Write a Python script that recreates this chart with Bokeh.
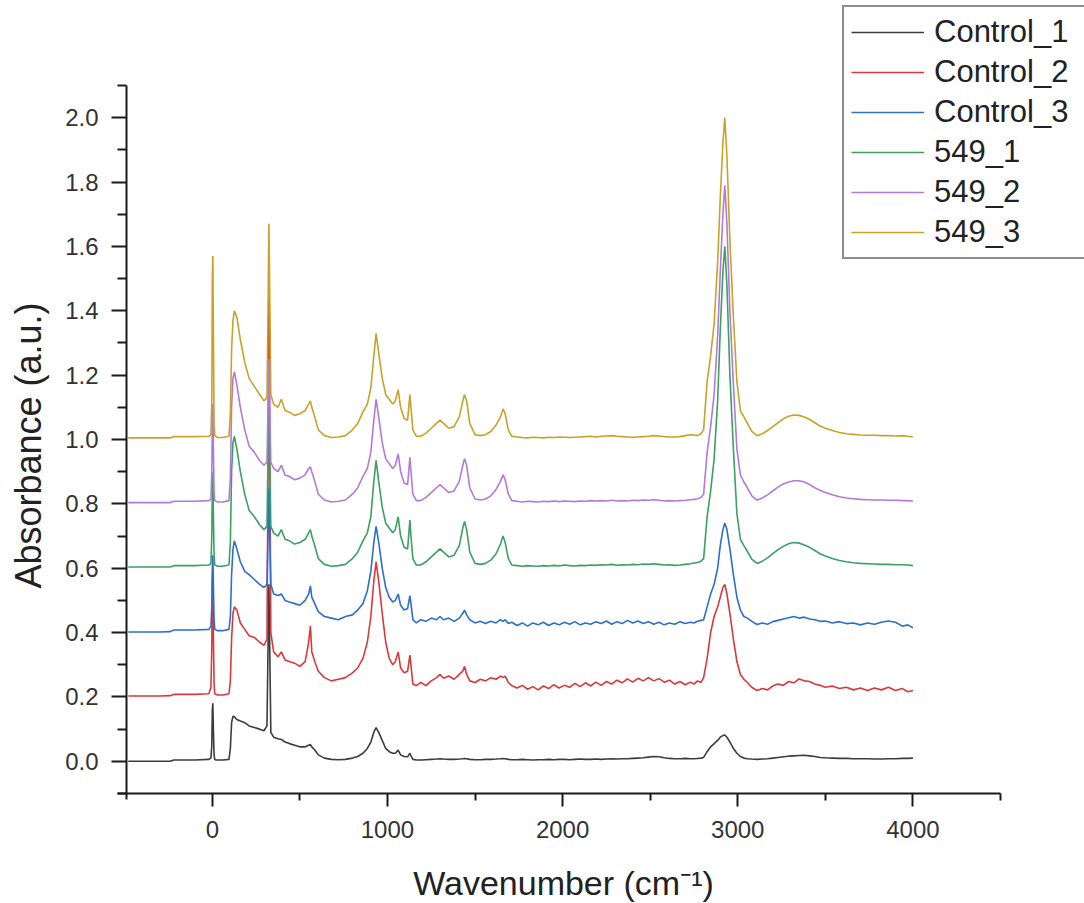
import math
from bokeh.plotting import figure
from bokeh.models import Range1d, FixedTicker, PrintfTickFormatter, Legend, LegendItem, Label
from bokeh.embed import file_html
from bokeh.resources import INLINE

# ---------------- data ----------------
series_names = ["Control_1", "Control_2", "Control_3", "549_1", "549_2", "549_3"]
offsets = [0.0, 0.2, 0.4, 0.6, 0.8, 1.0]
x_title = "Wavenumber (cm\u207b\u00b9)"
y_title = "Absorbance (a.u.)"
x_ticks = [0, 1000, 2000, 3000, 4000]
x_minor = [500, 1500, 2500, 3500, 4500]
y_ticks = [0.0, 0.2, 0.4, 0.6, 0.8, 1.0, 1.2, 1.4, 1.6, 1.8, 2.0]
y_minor = [-0.1, 0.1, 0.3, 0.5, 0.7, 0.9, 1.1, 1.3, 1.5, 1.7, 1.9, 2.1]

wavenumber = [
    -480, -300, -240, -220, -100, -20, -8, -3, 0, 3,
    6, 10, 14, 30, 60, 95, 103, 110, 118, 126,
    140, 160, 185, 210, 240, 270, 295, 312, 318, 323,
    328, 334, 350, 375, 394, 415, 440, 470, 500, 530,
    550, 560, 568, 585, 605, 640, 680, 720, 760, 800,
    830, 860, 885, 905, 922, 935, 950, 970, 990, 1010,
    1030, 1045, 1061, 1075, 1095, 1115, 1128, 1134, 1145, 1165,
    1190, 1220, 1250, 1280, 1300, 1320, 1350, 1380, 1410, 1430,
    1440, 1452, 1470, 1500, 1530, 1560, 1590, 1620, 1645, 1660,
    1672, 1690, 1710, 1740, 1770, 1800, 1830, 1860, 1890, 1920,
    1950, 1980, 2010, 2040, 2070, 2100, 2130, 2160, 2190, 2220,
    2250, 2280, 2310, 2340, 2370, 2400, 2430, 2460, 2490, 2520,
    2550, 2580, 2610, 2640, 2670, 2700, 2730, 2750, 2770, 2790,
    2805, 2825, 2845, 2865, 2885, 2900, 2915, 2926, 2938, 2955,
    2975, 2995, 3015, 3035, 3055, 3080, 3110, 3140, 3170, 3200,
    3230, 3260, 3290, 3320, 3350, 3380, 3410, 3440, 3470, 3500,
    3540, 3580, 3620, 3660, 3700, 3740, 3780, 3820, 3860, 3900,
    3940, 3970, 4000,
]

control_1 = [
    0.0, 0.0, 0.0, 0.004, 0.004, 0.006, 0.010, 0.05, 0.16, 0.18,
    0.10, 0.02, 0.005, 0.004, 0.004, 0.006, 0.04, 0.12, 0.14, 0.138,
    0.13, 0.125, 0.12, 0.11, 0.105, 0.10, 0.095, 0.11, 0.35, 0.55,
    0.35, 0.09, 0.075, 0.07, 0.068, 0.06, 0.055, 0.05, 0.045, 0.045,
    0.05, 0.052, 0.045, 0.035, 0.02, 0.01, 0.006, 0.005, 0.006, 0.01,
    0.015, 0.025, 0.04, 0.06, 0.09, 0.105, 0.09, 0.065, 0.04, 0.03,
    0.025, 0.025, 0.035, 0.02, 0.015, 0.014, 0.025, 0.018, 0.006, 0.004,
    0.004, 0.005, 0.006, 0.007, 0.008, 0.007, 0.006, 0.006, 0.007, 0.008,
    0.009, 0.008, 0.006, 0.005, 0.005, 0.006, 0.006, 0.007, 0.008, 0.009,
    0.008, 0.006, 0.005, 0.005, 0.006, 0.005, 0.004, 0.005, 0.005, 0.006,
    0.005, 0.006, 0.006, 0.005, 0.006, 0.007, 0.006, 0.006, 0.007, 0.006,
    0.007, 0.008, 0.007, 0.008, 0.008, 0.009, 0.010, 0.011, 0.013, 0.015,
    0.014, 0.011, 0.009, 0.008, 0.008, 0.009, 0.008, 0.008, 0.009, 0.010,
    0.012, 0.03, 0.045, 0.055, 0.065, 0.075, 0.08, 0.082, 0.075, 0.06,
    0.04, 0.025, 0.015, 0.01, 0.008, 0.007, 0.006, 0.007, 0.008, 0.01,
    0.012, 0.014, 0.016, 0.017, 0.018, 0.019, 0.017, 0.015, 0.012, 0.011,
    0.01, 0.009, 0.009, 0.008, 0.008, 0.008, 0.007, 0.007, 0.008, 0.008,
    0.009, 0.009, 0.01,
]

control_2 = [
    0.003, 0.003, 0.004, 0.008, 0.008, 0.010, 0.03, 0.15, 0.35, 0.40,
    0.20, 0.04, 0.010, 0.006, 0.006, 0.010, 0.05, 0.18, 0.26, 0.28,
    0.27, 0.23, 0.21, 0.19, 0.185, 0.17, 0.16, 0.18, 0.70, 1.28,
    0.80, 0.20, 0.14, 0.125, 0.14, 0.115, 0.11, 0.105, 0.095, 0.11,
    0.17, 0.22, 0.14, 0.11, 0.08, 0.06, 0.05, 0.055, 0.06, 0.075,
    0.09, 0.12, 0.17, 0.25, 0.36, 0.42, 0.36, 0.26, 0.17, 0.12,
    0.10, 0.11, 0.14, 0.09, 0.075, 0.08, 0.13, 0.10, 0.04, 0.035,
    0.045, 0.035, 0.05, 0.06, 0.07, 0.058, 0.065, 0.055, 0.07, 0.08,
    0.095, 0.07, 0.05, 0.045, 0.055, 0.05, 0.06, 0.055, 0.065, 0.06,
    0.065, 0.045, 0.035, 0.028, 0.036, 0.024, 0.032, 0.022, 0.034, 0.026,
    0.038, 0.028, 0.036, 0.03, 0.042, 0.032, 0.044, 0.034, 0.046, 0.036,
    0.048, 0.04, 0.052, 0.044, 0.056, 0.046, 0.058, 0.05, 0.06, 0.05,
    0.057, 0.046, 0.052, 0.04, 0.048, 0.038, 0.046, 0.04, 0.05, 0.045,
    0.06, 0.12, 0.20, 0.25, 0.28, 0.31, 0.34, 0.35, 0.32, 0.26,
    0.18, 0.11, 0.07, 0.055, 0.045, 0.03, 0.02, 0.026, 0.022, 0.034,
    0.04, 0.036, 0.048, 0.044, 0.056, 0.05, 0.048, 0.04, 0.036, 0.03,
    0.034, 0.026, 0.03, 0.022, 0.028, 0.02, 0.028, 0.022, 0.03, 0.02,
    0.026, 0.016, 0.02,
]

control_3 = [
    0.002, 0.002, 0.003, 0.008, 0.008, 0.010, 0.02, 0.08, 0.20, 0.24,
    0.15, 0.04, 0.010, 0.006, 0.006, 0.010, 0.05, 0.18, 0.26, 0.285,
    0.26, 0.22, 0.19, 0.18, 0.165, 0.15, 0.14, 0.15, 0.30, 0.45,
    0.30, 0.15, 0.12, 0.115, 0.12, 0.10, 0.095, 0.09, 0.085, 0.10,
    0.12, 0.145, 0.11, 0.09, 0.065, 0.05, 0.045, 0.04, 0.05, 0.055,
    0.07, 0.09, 0.13, 0.19, 0.28, 0.33, 0.28, 0.20, 0.14, 0.11,
    0.095, 0.10, 0.12, 0.085, 0.07, 0.075, 0.115, 0.09, 0.04, 0.03,
    0.04, 0.035, 0.045, 0.04, 0.05, 0.04, 0.045, 0.035, 0.045, 0.06,
    0.07, 0.055, 0.04, 0.03, 0.035, 0.028, 0.035, 0.03, 0.04, 0.035,
    0.04, 0.028, 0.032, 0.022, 0.03, 0.02, 0.03, 0.024, 0.032, 0.022,
    0.03, 0.024, 0.032, 0.026, 0.034, 0.024, 0.03, 0.026, 0.034, 0.028,
    0.036, 0.026, 0.034, 0.028, 0.038, 0.03, 0.036, 0.028, 0.034, 0.026,
    0.032, 0.024, 0.03, 0.026, 0.034, 0.028, 0.032, 0.03, 0.035, 0.038,
    0.04, 0.08, 0.12, 0.15, 0.20, 0.27, 0.32, 0.34, 0.32, 0.26,
    0.18, 0.11, 0.07, 0.05, 0.045, 0.035, 0.025, 0.03, 0.026, 0.034,
    0.038, 0.042, 0.046, 0.05, 0.045, 0.048, 0.042, 0.04, 0.035, 0.036,
    0.03, 0.034, 0.028, 0.03, 0.024, 0.03, 0.026, 0.032, 0.036, 0.032,
    0.02, 0.024, 0.015,
]

s549_1 = [
    0.004, 0.004, 0.004, 0.008, 0.008, 0.010, 0.015, 0.10, 0.25, 0.30,
    0.17, 0.04, 0.010, 0.006, 0.006, 0.010, 0.08, 0.30, 0.39, 0.41,
    0.37, 0.30, 0.23, 0.18, 0.16, 0.135, 0.12, 0.13, 0.35, 0.55,
    0.35, 0.13, 0.11, 0.10, 0.12, 0.09, 0.085, 0.075, 0.08, 0.09,
    0.11, 0.12, 0.10, 0.07, 0.03, 0.012, 0.006, 0.008, 0.012, 0.03,
    0.05, 0.085, 0.11, 0.16, 0.27, 0.335, 0.27, 0.19, 0.14, 0.125,
    0.11, 0.12, 0.16, 0.10, 0.065, 0.06, 0.15, 0.10, 0.03, 0.01,
    0.01, 0.02, 0.035, 0.05, 0.06, 0.05, 0.035, 0.04, 0.07, 0.125,
    0.145, 0.12, 0.05, 0.015, 0.012, 0.015, 0.025, 0.045, 0.075, 0.10,
    0.08, 0.03, 0.01, 0.008, 0.006, 0.008, 0.007, 0.006, 0.008, 0.007,
    0.009, 0.007, 0.010, 0.008, 0.007, 0.009, 0.008, 0.010, 0.009, 0.011,
    0.010, 0.012, 0.009, 0.011, 0.010, 0.012, 0.011, 0.013, 0.012, 0.014,
    0.012, 0.010, 0.011, 0.009, 0.010, 0.012, 0.014, 0.016, 0.018, 0.022,
    0.03, 0.16, 0.24, 0.34, 0.52, 0.74, 0.92, 1.0, 0.88, 0.60,
    0.37, 0.17, 0.09, 0.07, 0.052, 0.028, 0.015, 0.022, 0.032, 0.045,
    0.058, 0.068, 0.076, 0.08, 0.078, 0.072, 0.065, 0.055, 0.045, 0.038,
    0.03, 0.024, 0.02, 0.017, 0.015, 0.014, 0.013, 0.012, 0.012, 0.011,
    0.011, 0.010, 0.008,
]

s549_2 = [
    0.004, 0.004, 0.004, 0.008, 0.008, 0.010, 0.015, 0.10, 0.26, 0.31,
    0.18, 0.04, 0.010, 0.006, 0.006, 0.010, 0.08, 0.30, 0.39, 0.41,
    0.37, 0.30, 0.23, 0.18, 0.16, 0.135, 0.12, 0.13, 0.30, 0.45,
    0.30, 0.13, 0.11, 0.10, 0.12, 0.09, 0.085, 0.075, 0.08, 0.09,
    0.11, 0.115, 0.10, 0.07, 0.03, 0.012, 0.006, 0.008, 0.012, 0.03,
    0.05, 0.085, 0.11, 0.16, 0.26, 0.325, 0.27, 0.19, 0.14, 0.125,
    0.11, 0.12, 0.155, 0.10, 0.065, 0.06, 0.145, 0.10, 0.03, 0.01,
    0.01, 0.02, 0.035, 0.05, 0.06, 0.05, 0.035, 0.04, 0.07, 0.12,
    0.14, 0.12, 0.05, 0.015, 0.012, 0.015, 0.025, 0.045, 0.07, 0.09,
    0.075, 0.03, 0.01, 0.008, 0.006, 0.008, 0.007, 0.006, 0.008, 0.007,
    0.009, 0.007, 0.009, 0.008, 0.007, 0.009, 0.008, 0.010, 0.009, 0.010,
    0.009, 0.011, 0.009, 0.010, 0.009, 0.011, 0.010, 0.012, 0.011, 0.013,
    0.011, 0.009, 0.010, 0.009, 0.010, 0.011, 0.013, 0.014, 0.016, 0.020,
    0.03, 0.16, 0.24, 0.34, 0.52, 0.72, 0.90, 0.99, 0.87, 0.60,
    0.37, 0.17, 0.09, 0.068, 0.05, 0.025, 0.012, 0.018, 0.028, 0.04,
    0.052, 0.062, 0.068, 0.072, 0.072, 0.068, 0.06, 0.05, 0.042, 0.035,
    0.028, 0.022, 0.018, 0.016, 0.014, 0.013, 0.012, 0.012, 0.011, 0.011,
    0.010, 0.010, 0.008,
]

s549_3 = [
    0.005, 0.005, 0.005, 0.009, 0.009, 0.010, 0.014, 0.12, 0.50, 0.57,
    0.35, 0.05, 0.012, 0.006, 0.006, 0.010, 0.08, 0.28, 0.37, 0.40,
    0.38, 0.31, 0.24, 0.19, 0.165, 0.14, 0.12, 0.13, 0.40, 0.67,
    0.45, 0.14, 0.11, 0.10, 0.125, 0.09, 0.085, 0.075, 0.08, 0.09,
    0.11, 0.12, 0.10, 0.07, 0.03, 0.012, 0.006, 0.008, 0.012, 0.03,
    0.05, 0.085, 0.11, 0.16, 0.26, 0.33, 0.27, 0.19, 0.14, 0.125,
    0.11, 0.12, 0.155, 0.10, 0.065, 0.06, 0.14, 0.10, 0.03, 0.01,
    0.01, 0.02, 0.035, 0.05, 0.06, 0.05, 0.035, 0.04, 0.07, 0.12,
    0.14, 0.12, 0.05, 0.015, 0.012, 0.015, 0.025, 0.045, 0.07, 0.095,
    0.08, 0.03, 0.01, 0.008, 0.006, 0.005, 0.007, 0.006, 0.005, 0.007,
    0.006, 0.008, 0.007, 0.006, 0.007, 0.008, 0.009, 0.010, 0.008, 0.010,
    0.011, 0.012, 0.010, 0.009, 0.008, 0.007, 0.008, 0.009, 0.010, 0.012,
    0.011, 0.009, 0.008, 0.008, 0.009, 0.012, 0.015, 0.014, 0.012, 0.018,
    0.03, 0.18, 0.26, 0.36, 0.55, 0.75, 0.92, 1.0, 0.88, 0.62,
    0.38, 0.18, 0.09, 0.07, 0.05, 0.025, 0.012, 0.018, 0.028, 0.04,
    0.052, 0.064, 0.072, 0.076, 0.075, 0.07, 0.062, 0.052, 0.042, 0.035,
    0.028, 0.022, 0.018, 0.016, 0.014, 0.013, 0.013, 0.012, 0.012, 0.011,
    0.012, 0.010, 0.008,
]

spectra = [control_1, control_2, control_3, s549_1, s549_2, s549_3]
colors = ["#3c3c3c", "#d9393b", "#2c6fcb", "#3ba060", "#b27ad8", "#c9a227"]

# ---------------- figure ----------------
# The plotting frame covers the whole canvas so that the legend, which sits
# partly outside the axes box in the original, is not clipped.  The axes are
# pinned at fixed data locations and limited with bounds.
W, H = 1084, 903
AX_L, AX_R, AX_T, AX_B = 126, 1000, 85, 793      # axes box in canvas px
X0, X1, Y0, Y1 = -490, 4500, -0.1, 2.1
kx = (AX_R - AX_L) / (X1 - X0)
ky = (AX_B - AX_T) / (Y1 - Y0)
x_range = Range1d(X0 - AX_L / kx, X0 + (W - AX_L) / kx)
y_range = Range1d(Y0 - (H - AX_B) / ky, Y0 + AX_B / ky)

FONT = "Liberation Sans"
p = figure(width=W, height=H, output_backend="svg", toolbar_location=None,
           x_range=x_range, y_range=y_range,
           min_border=0, min_border_left=0, min_border_right=0,
           min_border_top=0, min_border_bottom=0)
p.outline_line_color = None
p.grid.visible = False
p.background_fill_color = "white"
p.border_fill_color = "white"

renderers = []
for name, vals, off, col in zip(series_names, spectra, offsets, colors):
    ys = [v + off for v in vals]
    r = p.line(wavenumber, ys, line_color=col, line_width=1.6)
    renderers.append(r)

xa = p.xaxis[0]
ya = p.yaxis[0]
xa.fixed_location = Y0
ya.fixed_location = X0
xa.bounds = (-540, X1)
ya.bounds = (-0.12, Y1)
xa.ticker = FixedTicker(ticks=x_ticks, minor_ticks=x_minor)
ya.ticker = FixedTicker(ticks=y_ticks, minor_ticks=y_minor)
ya.formatter = PrintfTickFormatter(format="%.1f")

for ax in (xa, ya):
    ax.axis_line_width = 2
    ax.axis_line_color = "#1a1a1a"
    ax.major_tick_line_width = 2
    ax.minor_tick_line_width = 2
    ax.major_tick_line_color = "#1a1a1a"
    ax.minor_tick_line_color = "#1a1a1a"
    ax.major_tick_in = 0
    ax.minor_tick_in = 0
    ax.major_label_text_font = FONT
    ax.major_label_text_font_size = "24px"
    ax.major_label_text_color = "#333333"

xa.major_tick_out = 13
xa.minor_tick_out = 7
xa.major_label_standoff = 14
ya.major_tick_out = 15
ya.minor_tick_out = 9
ya.major_label_standoff = 13

# axis titles (screen units from the frame's bottom-left = canvas bottom-left)
p.add_layout(Label(x=563, y=21, x_units="screen", y_units="screen", text=x_title,
                   text_font=FONT, text_font_size="34px", text_color="#222222",
                   text_align="center", text_baseline="alphabetic"))
p.add_layout(Label(x=28, y=H - 445, x_units="screen", y_units="screen", text=y_title,
                   angle=math.pi / 2, text_font=FONT, text_font_size="36px",
                   text_color="#222222", text_align="center", text_baseline="alphabetic"))

items = [LegendItem(label=n, renderers=[r]) for n, r in zip(series_names, renderers)]
legend = Legend(items=items, location=(842, H - 259), orientation="vertical")
legend.label_text_font = FONT
legend.label_text_font_size = "31px"
legend.label_text_color = "#222222"
legend.glyph_width = 73
legend.glyph_height = 36
legend.label_height = 36
legend.label_width = 175
legend.spacing = 4
legend.padding = 7
legend.margin = 0
legend.label_standoff = 10
legend.border_line_color = "#1a1a1a"
legend.border_line_width = 2
legend.background_fill_color = "white"
legend.background_fill_alpha = 1.0
p.add_layout(legend)

open("out.html", "w").write(file_html(p, INLINE))
